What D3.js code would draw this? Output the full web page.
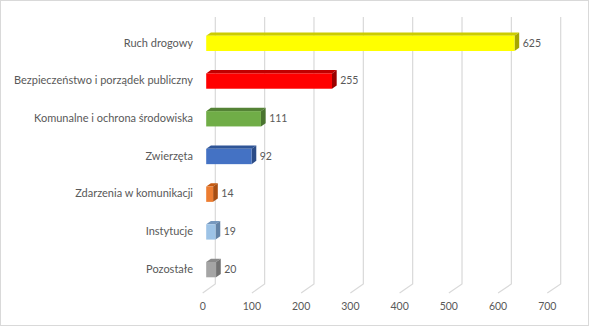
<!DOCTYPE html>
<html>
<head>
<meta charset="utf-8">
<script src="https://cdn.jsdelivr.net/npm/d3@7"></script>
<style>
  html, body { margin: 0; padding: 0; background: #fff; }
  svg { display: block; }
  text { font-family: Lato, "Open Sans", sans-serif; fill: #595959; }
</style>
</head>
<body>
<svg id="chart" width="589" height="326"></svg>
<script>
// Categories, top to bottom
const categories = [
  "Ruch drogowy",
  "Bezpieczeństwo i porządek publiczny",
  "Komunalne i ochrona środowiska",
  "Zwierzęta",
  "Zdarzenia w komunikacji",
  "Instytucje",
  "Pozostałe"
];
const values = [625, 255, 111, 92, 14, 19, 20];
const tickValues = [0, 100, 200, 300, 400, 500, 600, 700];

// Face colours per bar: front, top, side
const frontColors = ["#FFFF00", "#FF0000", "#70AD47", "#4472C4", "#ED7D31", "#9DC3E6", "#A5A5A5"];
const topColors   = ["#CCCC00", "#C00000", "#548235", "#2F5597", "#C55A11", "#7698BE", "#8A8A8A"];
const sideColors  = ["#A6A600", "#9A0000", "#4A7430", "#2B4C87", "#A84E12", "#6383A6", "#727272"];

const svg = d3.select("#chart");
const W = 589, H = 326;

// outer border
svg.append("rect")
  .attr("x", 0.5).attr("y", 0.5)
  .attr("width", W - 1).attr("height", H - 1)
  .attr("fill", "#fff").attr("stroke", "#D9D9D9");

// 3D projection: back wall, bar plane, front floor edge
const xBack  = d3.scaleLinear().domain([0, 700]).range([215.3, 560.7]);
const xBar   = d3.scaleLinear().domain([0, 700]).range([206.2, 551.5]);
const xFront = d3.scaleLinear().domain([0, 700]).range([202.7, 547.3]);
const yTop = 17, yBackFloor = 284, yFrontFloor = 293;

const y = d3.scaleBand()
  .domain(categories)
  .range([24.5, 288.5])
  .paddingInner(0.594)
  .paddingOuter(0.297);

const depthDx = 4.7, depthDy = -3.3;

// gridlines on back wall + floor diagonals
const grid = svg.append("g").attr("stroke", "#D9D9D9").attr("stroke-width", 1.2).attr("fill", "none");
tickValues.forEach(t => {
  grid.append("path")
    .attr("d", `M${xBack(t)},${yTop} L${xBack(t)},${yBackFloor} L${xFront(t)},${yFrontFloor}`);
});

// x axis tick labels along front floor edge
svg.append("g").selectAll("text")
  .data(tickValues)
  .join("text")
  .attr("x", d => xFront(d))
  .attr("y", 307)
  .attr("text-anchor", "middle")
  .attr("dominant-baseline", "middle")
  .attr("font-size", 10.5)
  .text(d => d);

// category labels
svg.append("g").selectAll("text")
  .data(categories)
  .join("text")
  .attr("x", 193)
  .attr("y", d => y(d) + y.bandwidth() / 2 + 0.5)
  .attr("text-anchor", "end")
  .attr("dominant-baseline", "middle")
  .attr("font-size", 11)
  .text(d => d);

// bars
const bars = svg.append("g").selectAll("g")
  .data(categories.map((c, i) => ({ c, v: values[i], i })))
  .join("g");

bars.each(function(d) {
  const g = d3.select(this);
  const x0 = xBar(0), x1 = xBar(d.v);
  const y0 = y(d.c), y1 = y0 + y.bandwidth();
  // top face
  g.append("path")
    .attr("d", `M${x0},${y0} L${x0 + depthDx},${y0 + depthDy} L${x1 + depthDx},${y0 + depthDy} L${x1},${y0} Z`)
    .attr("fill", topColors[d.i]);
  // side face
  g.append("path")
    .attr("d", `M${x1},${y0} L${x1 + depthDx},${y0 + depthDy} L${x1 + depthDx},${y1 + depthDy} L${x1},${y1} Z`)
    .attr("fill", sideColors[d.i]);
  // front face
  g.append("rect")
    .attr("x", x0).attr("y", y0)
    .attr("width", x1 - x0).attr("height", y1 - y0)
    .attr("fill", frontColors[d.i]);
  // value label
  g.append("text")
    .attr("x", x1 + depthDx + 3.5)
    .attr("y", (y0 + y1) / 2 + 0.5)
    .attr("dominant-baseline", "middle")
    .attr("font-size", 10.5)
    .text(d.v);
});
</script>
</body>
</html>
